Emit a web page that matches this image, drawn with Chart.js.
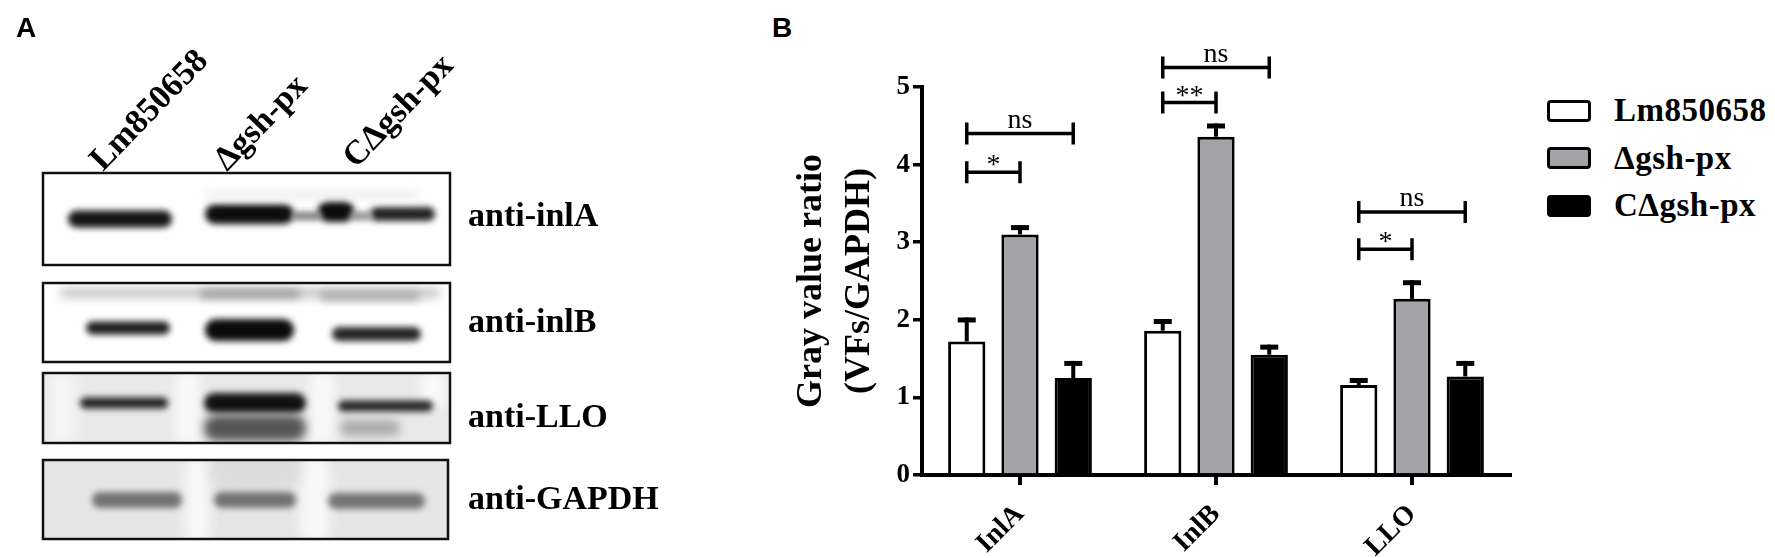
<!DOCTYPE html>
<html>
<head>
<meta charset="utf-8">
<script src="https://cdn.jsdelivr.net/npm/chart.js@4.4.1/dist/chart.umd.min.js"></script>
<style>
  html, body { margin: 0; padding: 0; background: #fff; }
  body { width: 1775px; height: 558px; position: relative; overflow: hidden; }
  #blot { position: absolute; left: 0; top: 0; }
  #chart-box { position: absolute; left: 700px; top: 0; width: 820px; height: 558px; }
  .panel { position: absolute; font: bold 28px "Liberation Sans", Arial, sans-serif; }
  #legend { position: absolute; left: 1547px; top: 87px; }
  .row { height: 47.5px; display: flex; align-items: center; }
  .swatch { width: 38px; height: 16px; border: 3px solid #000; border-radius: 4px; }
  .row span { margin-left: 23px; font: bold 33px "Liberation Serif", "Times New Roman", serif; letter-spacing: 0.5px; }
</style>
</head>
<body>
<canvas id="blot" width="700" height="558"></canvas>
<div class="panel" style="left:16px; top:12px;">A</div>
<div class="panel" style="left:772px; top:12px;">B</div>
<div id="chart-box"><canvas id="chart-canvas"></canvas></div>
<div id="legend"></div>
<script>
// ---- data ----
const categories = ["InlA", "InlB", "LLO"];
const seriesNames = ["Lm850658", "\u0394gsh-px", "C\u0394gsh-px"];
const wildType = [1.72, 1.86, 1.16];
const wildTypeErr = [0.31, 0.15, 0.09];
const deletion = [3.10, 4.36, 2.27];
const deletionErr = [0.12, 0.17, 0.24];
const complement = [1.25, 1.55, 1.27];
const complementErr = [0.22, 0.13, 0.20];
const yTicks = [0, 1, 2, 3, 4, 5];
const yTitle = ["Gray value ratio", "(VFs/GAPDH)"];
// significance brackets: category, series from/to, height in y units
const sigCats = [0, 0, 1, 1, 2, 2];
const sigFrom = [0, 0, 0, 0, 0, 0];
const sigTo = [1, 2, 1, 2, 1, 2];
const sigLevel = [3.90, 4.40, 4.80, 5.25, 2.91, 3.39];
const sigText = ["*", "ns", "**", "ns", "*", "ns"];
const blotLabels = ["anti-inlA", "anti-inlB", "anti-LLO", "anti-GAPDH"];
const laneLabels = ["Lm850658", "\u0394gsh-px", "C\u0394gsh-px"];
// ==================================

const fills = ["#ffffff", "#a3a3a7", "#000000"];
const serif = "Liberation Serif";

// legend
const legend = document.getElementById("legend");
seriesNames.forEach((name, i) => {
  const row = document.createElement("div");
  row.className = "row";
  row.innerHTML = `<div class="swatch" style="background:${fills[i]}"></div><span>${name}</span>`;
  legend.appendChild(row);
});

const errorBars = {
  id: "errorBars",
  afterDatasetsDraw(chart) {
    const { ctx, scales: { y } } = chart;
    ctx.save();
    ctx.strokeStyle = "#000";
    ctx.fillStyle = "#000";
    chart.data.datasets.forEach((ds, i) => {
      chart.getDatasetMeta(i).data.forEach((bar, j) => {
        const top = y.getPixelForValue(ds.data[j] + ds.errors[j]);
        ctx.lineWidth = 4;
        ctx.beginPath();
        ctx.moveTo(bar.x, bar.y);
        ctx.lineTo(bar.x, top);
        ctx.stroke();
        ctx.fillRect(bar.x - 9, top, 18, 5);
      });
    });
    ctx.restore();
  }
};

const brackets = {
  id: "brackets",
  afterDraw(chart) {
    const { ctx, scales: { y } } = chart;
    ctx.save();
    ctx.strokeStyle = "#000";
    ctx.fillStyle = "#000";
    ctx.lineWidth = 3.5;
    ctx.font = `28px "${serif}"`;
    ctx.textAlign = "center";
    sigCats.forEach((c, k) => {
      const x1 = chart.getDatasetMeta(sigFrom[k]).data[c].x;
      const x2 = chart.getDatasetMeta(sigTo[k]).data[c].x;
      const yy = y.getPixelForValue(sigLevel[k]);
      ctx.beginPath();
      ctx.moveTo(x1, yy); ctx.lineTo(x2, yy);
      ctx.moveTo(x1, yy - 11); ctx.lineTo(x1, yy + 11);
      ctx.moveTo(x2, yy - 11); ctx.lineTo(x2, yy + 11);
      ctx.stroke();
      const m = ctx.measureText(sigText[k]);
      ctx.fillText(sigText[k], (x1 + x2) / 2, yy - 6 - m.actualBoundingBoxDescent);
    });
    ctx.restore();
  }
};

const series = [wildType, deletion, complement];
const errs = [wildTypeErr, deletionErr, complementErr];

new Chart(document.getElementById("chart-canvas"), {
  type: "bar",
  data: {
    labels: categories,
    datasets: series.map((d, i) => ({
      label: seriesNames[i],
      data: d,
      errors: errs[i],
      backgroundColor: fills[i],
      borderColor: "#000",
      borderWidth: 3,
      categoryPercentage: 0.815,
      barPercentage: 0.70
    }))
  },
  options: {
    responsive: true,
    maintainAspectRatio: false,
    animation: false,
    events: [],
    layout: { padding: { top: 87, right: 10, bottom: 0, left: 0 } },
    plugins: { legend: { display: false }, tooltip: { enabled: false } },
    scales: {
      x: {
        offset: true,
        afterFit(scale) { scale.height = 83; },
        border: { display: true, color: "#000", width: 4 },
        grid: { offset: false, drawOnChartArea: false, tickLength: 10, color: "#000", lineWidth: 4 },
        ticks: {
          color: "#000", autoSkip: false, minRotation: 45, maxRotation: 45, padding: 13,
          font: { family: serif, weight: "bold", size: 28 }
        }
      },
      y: {
        min: 0, max: 5,
        afterFit(scale) { scale.width = 222; },
        afterBuildTicks(scale) { scale.ticks = yTicks.map(v => ({ value: v })); },
        border: { display: true, color: "#000", width: 4 },
        grid: { drawOnChartArea: false, tickLength: 9, color: "#000", lineWidth: 3.5 },
        ticks: {
          color: "#000", padding: 3,
          font: { family: serif, weight: "bold", size: 27 }
        },
        title: {
          display: true, text: yTitle, color: "#000",
          padding: { top: 88 },
          font: { family: serif, weight: "bold", size: 36, lineHeight: 1.333 }
        }
      }
    }
  },
  plugins: [errorBars, brackets]
});

// ---- panel A: western blot picture ----
const bc = document.getElementById("blot").getContext("2d");
const boxes = [[43, 173, 407, 92], [43, 283, 407, 79], [43, 373, 407, 70], [43, 460, 405, 79]];

function band(x1, x2, yc, h, color, blur) {
  bc.save();
  bc.filter = `blur(${blur}px)`;
  bc.fillStyle = color;
  bc.beginPath();
  bc.roundRect(x1, yc - h / 2, x2 - x1, h, h / 2);
  bc.fill();
  bc.restore();
}

// box backgrounds
bc.fillStyle = "#fff";
bc.fillRect(...boxes[0]);
bc.fillRect(...boxes[1]);
bc.fillStyle = "#e9e9e9";
bc.fillRect(...boxes[2]);
bc.fillStyle = "#e6e6e6";
bc.fillRect(...boxes[3]);
// lighter lanes on GAPDH, LLO
bc.save();
bc.beginPath(); bc.rect(...boxes[3]); bc.clip();
band(185, 210, 500, 90, "#f7f7f7", 6);
band(300, 330, 500, 90, "#f7f7f7", 6);
band(210, 300, 470, 40, "#dcdcdc", 6);
bc.restore();
bc.save();
bc.beginPath(); bc.rect(...boxes[2]); bc.clip();
band(50, 75, 408, 80, "#f6f6f6", 8);
band(175, 200, 408, 80, "#f8f8f8", 6);
band(310, 335, 408, 80, "#f8f8f8", 6);
band(420, 445, 390, 40, "#fafafa", 6);
bc.restore();

// anti-inlA
bc.save();
bc.beginPath(); bc.rect(...boxes[0]); bc.clip();
band(68, 172, 219, 17, "#151515", 3);
band(205, 294, 214, 20, "#0d0d0d", 3);
band(318, 354, 211, 22, "#0b0b0b", 3);
band(370, 435, 214, 14, "#222", 3);
band(292, 322, 216, 8, "#777", 3);
band(350, 372, 216, 8, "#888", 3);
band(205, 420, 195, 10, "#f0f0f0", 4);
bc.restore();

// anti-inlB
bc.save();
bc.beginPath(); bc.rect(...boxes[1]); bc.clip();
band(60, 440, 293, 10, "#c8c8c8", 5);
band(200, 300, 294, 8, "#999", 4);
band(320, 420, 296, 9, "#aaa", 4);
band(86, 170, 328, 13, "#1e1e1e", 3);
band(205, 294, 330, 22, "#0b0b0b", 3);
band(332, 421, 334, 14, "#252525", 3);
bc.restore();

// anti-LLO
bc.save();
bc.beginPath(); bc.rect(...boxes[2]); bc.clip();
band(80, 168, 403, 11, "#222", 3);
band(204, 306, 403, 20, "#111", 3);
band(204, 306, 428, 26, "#555", 5);
band(338, 433, 406, 11, "#252525", 3);
band(340, 400, 428, 16, "#aaa", 5);
bc.restore();

// anti-GAPDH
bc.save();
bc.beginPath(); bc.rect(...boxes[3]); bc.clip();
band(92, 182, 500, 16, "#727272", 3);
band(214, 296, 500, 16, "#727272", 3);
band(328, 425, 501, 16, "#747474", 3);
bc.restore();

// frames
bc.strokeStyle = "#111";
bc.lineWidth = 2.5;
boxes.forEach(b => bc.strokeRect(...b));

// labels
bc.fillStyle = "#000";
bc.font = `bold 34px "${serif}"`;
bc.textBaseline = "middle";
const labelY = [217, 323, 418, 500];
blotLabels.forEach((t, i) => bc.fillText(t, 468, labelY[i]));

bc.font = `bold 34px "${serif}"`;
bc.textBaseline = "alphabetic";
const laneX = [103, 227, 356];
const laneY = [172, 172, 169];
laneLabels.forEach((t, i) => {
  bc.save();
  bc.translate(laneX[i], laneY[i]);
  bc.rotate(-46 * Math.PI / 180);
  bc.fillText(t, 0, 0);
  bc.restore();
});
</script>
</body>
</html>
